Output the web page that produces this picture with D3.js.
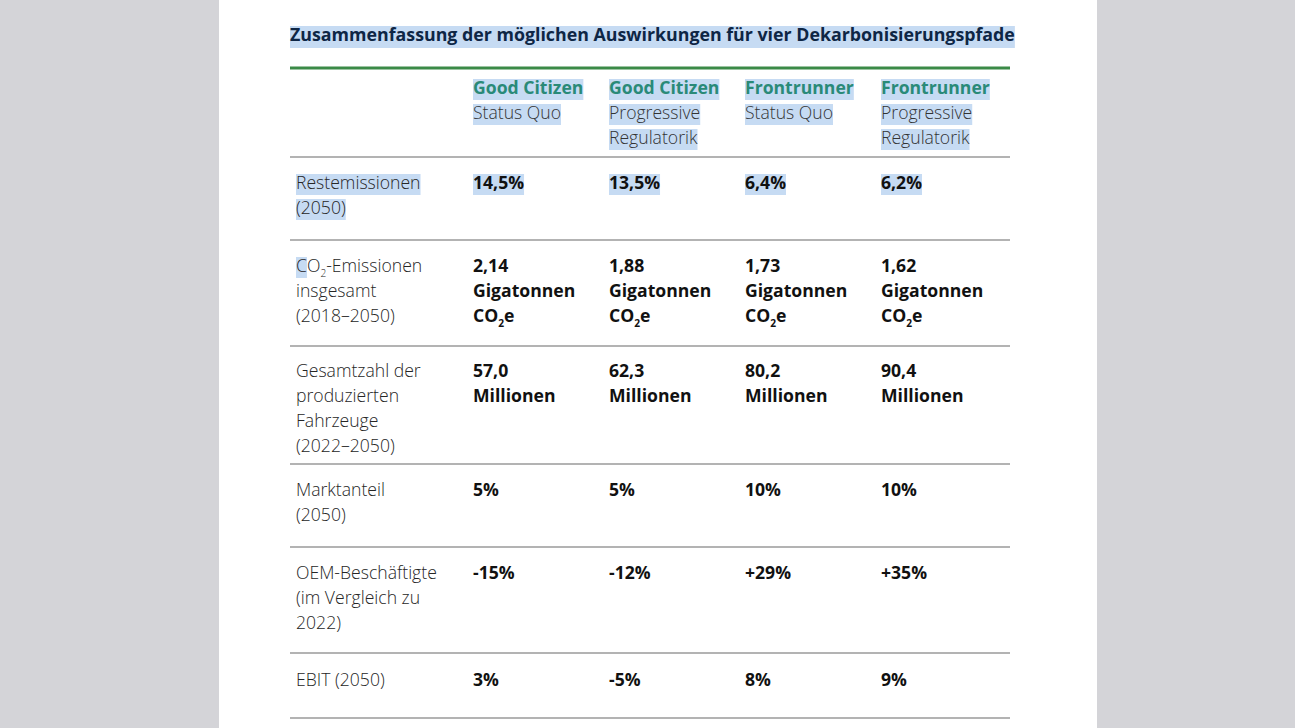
<!DOCTYPE html>
<html><head><meta charset="utf-8">
<script src="https://cdn.jsdelivr.net/npm/d3@7"></script>
<style>
html,body{margin:0;padding:0;background:#d4d4d8;overflow:hidden}
svg{display:block}
</style></head>
<body>
<svg id="chart" width="1295" height="728"></svg>
<script>
// ---------- data ----------
const title = "Zusammenfassung der möglichen Auswirkungen für vier Dekarbonisierungspfade";
const scenarios = ["Good Citizen", "Good Citizen", "Frontrunner", "Frontrunner"];
const regimes = [["Status Quo"], ["Progressive", "Regulatorik"], ["Status Quo"], ["Progressive", "Regulatorik"]];
const metrics = [
  ["Restemissionen", "(2050)"],
  ["CO{2}-Emissionen", "insgesamt", "(2018–2050)"],
  ["Gesamtzahl der", "produzierten", "Fahrzeuge", "(2022–2050)"],
  ["Marktanteil", "(2050)"],
  ["OEM-Beschäftigte", "(im Vergleich zu", "2022)"],
  ["EBIT (2050)"]
];
const restemissionen = [14.5, 13.5, 6.4, 6.2];
const co2Emissionen = [2.14, 1.88, 1.73, 1.62];
const fahrzeuge = [57.0, 62.3, 80.2, 90.4];
const marktanteil = [5, 5, 10, 10];
const beschaeftigte = [-15, -12, 29, 35];
const ebit = [3, -5, 8, 9];

// ---------- formatting ----------
const de = d3.formatLocale({decimal: ",", thousands: ".", grouping: [3], currency: ["", " €"], minus: "-"});
const rowValues = [
  restemissionen.map(v => [de.format(".1f")(v) + "%"]),
  co2Emissionen.map(v => [de.format(".2f")(v), "Gigatonnen", "CO{2}e"]),
  fahrzeuge.map(v => [de.format(".1f")(v), "Millionen"]),
  marktanteil.map(v => [de.format("d")(v) + "%"]),
  beschaeftigte.map(v => [de.format("+d")(v) + "%"]),
  ebit.map(v => [de.format("d")(v) + "%"])
];

// ---------- layout ----------
const svg = d3.select("#chart");
svg.append("rect").attr("x", 219).attr("y", 0).attr("width", 878).attr("height", 728).attr("fill", "#ffffff");

const left = 290, right = 1011, labelW = 177;
const x = d3.scaleBand().domain(d3.range(scenarios.length)).range([left + labelW, right]).padding(0);
const pad = 6, lh = 25, fs = 17.6;
const rowHeights = [89, 83, 106, 118, 83, 106, 65];
const top0 = 68;
const rowTops = [top0];
rowHeights.forEach((h, i) => rowTops.push(rowTops[i] + h));
const firstBase = [26, 32, 32, 31, 32, 32, 33];
const HL = "#c6dbf3";

const hlLayer = svg.append("g");
const txtLayer = svg.append("g");

function addText(g, str, xx, yy, opts) {
  const size = opts.size || fs;
  const t = g.append("text").attr("x", xx).attr("y", yy)
    .attr("font-family", "'Open Sans', sans-serif")
    .attr("font-size", size)
    .attr("font-weight", opts.weight || 400)
    .attr("fill", opts.color || "#111");
  const parts = str.split(/(\{[^}]*\})/).filter(p => p);
  let pending = 0;
  parts.forEach(p => {
    if (p.startsWith("{")) {
      t.append("tspan").attr("font-size", size * 0.58).attr("dy", 5).text(p.slice(1, -1));
      pending = -5;
    } else {
      const ts = t.append("tspan").text(p);
      if (pending) { ts.attr("dy", pending); pending = 0; }
    }
  });
  return t;
}
function highlight(t, xx, yy, partial) {
  const w = partial != null ? partial : t.node().getComputedTextLength();
  hlLayer.append("rect").attr("x", xx).attr("y", yy - 15).attr("width", w).attr("height", 21).attr("fill", HL);
}

// title
const tt = addText(txtLayer, title, left, 41, {size: 17.8, weight: 700, color: "#0e2645"});
hlLayer.append("rect").attr("x", left).attr("y", 26).attr("width", tt.node().getComputedTextLength()).attr("height", 22).attr("fill", HL);

// top green rule
svg.append("line").attr("x1", left).attr("x2", right - 1).attr("y1", 68).attr("y2", 68)
  .attr("stroke", "#3b8a47").attr("stroke-width", 3);

// header
scenarios.forEach((s, i) => {
  const xx = x(i) + pad;
  const yb = rowTops[0] + firstBase[0];
  const t = addText(txtLayer, s, xx, yb, {weight: 700, color: "#2a8a78"});
  highlight(t, xx, yb);
  regimes[i].forEach((r, j) => {
    const y2 = yb + lh * (j + 1);
    const t2 = addText(txtLayer, r, xx, y2, {weight: 300, color: "#333"});
    highlight(t2, xx, y2);
  });
});

// rows
metrics.forEach((m, ri) => {
  const yb = rowTops[ri + 1] + firstBase[ri + 1];
  m.forEach((line, j) => {
    const t = addText(txtLayer, line, left + pad, yb + j * lh, {weight: 300, color: "#262626"});
    if (ri === 0) highlight(t, left + pad, yb + j * lh);
    if (ri === 1 && j === 0) {
      const c = t.node().getSubStringLength(0, 1);
      highlight(t, left + pad, yb, c);
    }
  });
  rowValues[ri].forEach((vals, ci) => {
    vals.forEach((line, j) => {
      const t = addText(txtLayer, line, x(ci) + pad, yb + j * lh, {weight: 700, color: "#111"});
      if (ri === 0) highlight(t, x(ci) + pad, yb + j * lh);
    });
  });
});

// row separators
svg.append("g").selectAll("line").data(rowTops.slice(1)).join("line")
  .attr("x1", left).attr("x2", right - 1).attr("y1", d => d).attr("y2", d => d)
  .attr("stroke", "#9a9a9a").attr("stroke-width", 1.5);
</script>
</body></html>
